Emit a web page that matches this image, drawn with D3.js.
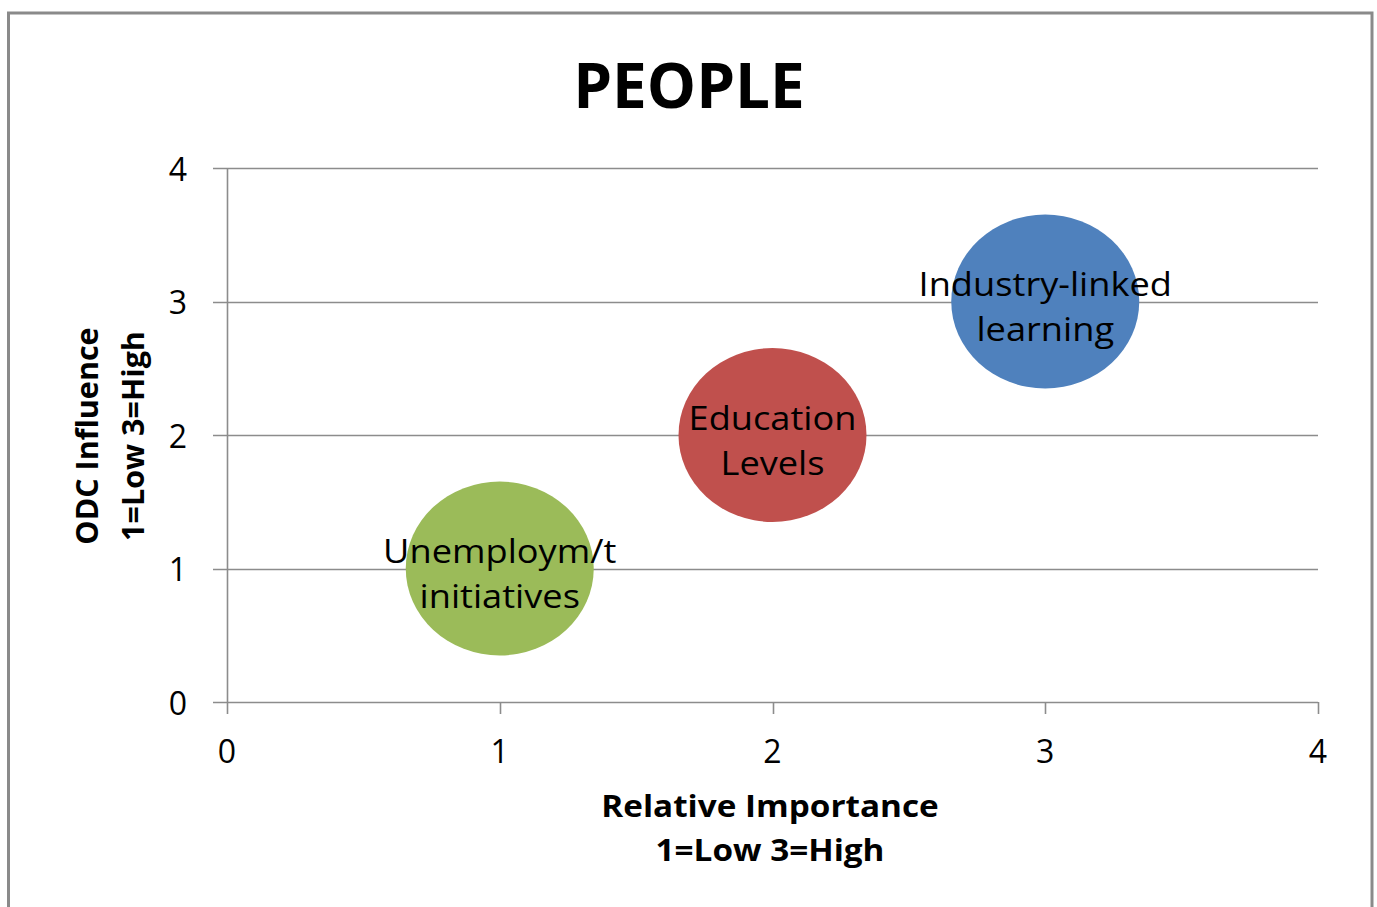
<!DOCTYPE html>
<html>
<head>
<meta charset="utf-8">
<script src="https://cdn.jsdelivr.net/npm/d3@7/dist/d3.min.js"></script>
<style>
  html, body { margin: 0; padding: 0; background: #fff; }
  svg { display: block; }
  text { font-family: "Open Sans", Lato, sans-serif; fill: #000; }
</style>
</head>
<body>
<svg id="chart" width="1377" height="907"></svg>
<script>
// Bubble data: one entry per topic
const labels = [["Unemploym/t", "initiatives"], ["Education", "Levels"], ["Industry-linked", "learning"]];
const importance = [1, 2, 3];
const influence = [1, 2, 3];
const bubbleSize = [1, 1, 1];
const colors = ["#9BBB59", "#C0504D", "#4F81BD"];
const xTicks = [0, 1, 2, 3, 4];
const yTicks = [0, 1, 2, 3, 4];

const svg = d3.select("#chart");
const W = 1377, H = 907;

// Outer frame
svg.append("rect")
  .attr("x", 8.5).attr("y", 13).attr("width", 1363.5).attr("height", H)
  .attr("fill", "#fff").attr("stroke", "#8a8a8a").attr("stroke-width", 3);

const plot = { left: 227, right: 1318, top: 168, bottom: 702 };
const x = d3.scaleLinear().domain([0, 4]).range([plot.left, plot.right]);
const y = d3.scaleLinear().domain([0, 4]).range([plot.bottom, plot.top]);
const r = d3.scaleSqrt().domain([0, 1]).range([0, 94]);
const aspect = 0.925; // vertical squash of the bubbles
const stretch = 1 / aspect; // matching horizontal widening for horizontal text

const gridColor = "#8c8c8c";

// Horizontal text widened around its anchor point
function wideText(g, cx, cy) {
  return g.append("g")
    .attr("transform", `translate(${cx},${cy}) scale(${stretch},1)`)
    .append("text");
}

// Horizontal gridlines (extend left past the axis as tick marks)
svg.append("g").selectAll("line")
  .data(yTicks)
  .join("line")
  .attr("x1", plot.left - 14).attr("x2", plot.right)
  .attr("y1", d => Math.round(y(d)) + 0.5).attr("y2", d => Math.round(y(d)) + 0.5)
  .attr("stroke", gridColor).attr("stroke-width", 1.6);

// Vertical axis line
svg.append("line")
  .attr("x1", plot.left + 0.5).attr("x2", plot.left + 0.5)
  .attr("y1", plot.top).attr("y2", plot.bottom + 12)
  .attr("stroke", gridColor).attr("stroke-width", 1.6);

// X tick marks
svg.append("g").selectAll("line")
  .data(xTicks.slice(1))
  .join("line")
  .attr("x1", d => Math.round(x(d)) + 0.5).attr("x2", d => Math.round(x(d)) + 0.5)
  .attr("y1", plot.bottom).attr("y2", plot.bottom + 12)
  .attr("stroke", gridColor).attr("stroke-width", 1.6);

// Y tick labels
svg.append("g").selectAll("text")
  .data(yTicks)
  .join("text")
  .attr("x", 187).attr("y", d => y(d))
  .attr("text-anchor", "end").attr("dominant-baseline", "central")
  .attr("font-family", "Lato, sans-serif")
  .attr("font-size", 32)
  .text(d => d);

// X tick labels
svg.append("g").selectAll("text")
  .data(xTicks)
  .join("text")
  .attr("x", d => x(d)).attr("y", 750)
  .attr("text-anchor", "middle").attr("dominant-baseline", "central")
  .attr("font-family", "Lato, sans-serif")
  .attr("font-size", 32)
  .text(d => d);

// Bubbles
const bubbles = svg.append("g").selectAll("g")
  .data(importance.map((v, i) => ({ x: v, y: influence[i], s: bubbleSize[i], c: colors[i], lab: labels[i] })))
  .join("g");

bubbles.append("ellipse")
  .attr("cx", d => x(d.x)).attr("cy", d => y(d.y))
  .attr("rx", d => r(d.s)).attr("ry", d => r(d.s) * aspect)
  .attr("fill", d => d.c);

bubbles.each(function(d) {
  const t = wideText(d3.select(this), x(d.x), y(d.y))
    .attr("text-anchor", "middle")
    .attr("font-size", 33.5)
    .attr("fill", "#1a1a1a");
  d.lab.forEach((line, i) => {
    t.append("tspan")
      .attr("x", 0)
      .attr("y", -18 + i * 45)
      .attr("dominant-baseline", "central")
      .text(line);
  });
});

// Title
svg.append("text")
  .attr("x", 689).attr("y", 84)
  .attr("text-anchor", "middle").attr("dominant-baseline", "central")
  .attr("font-family", "Lato, sans-serif")
  .attr("font-size", 62).attr("font-weight", "bold")
  .text("PEOPLE");

// X axis title
const xt = wideText(svg, 770, 805).attr("text-anchor", "middle")
  .attr("font-size", 30.8).attr("font-weight", "bold");
["Relative Importance", "1=Low 3=High"].forEach((s, i) => {
  xt.append("tspan").attr("x", 0).attr("y", i * 44)
    .attr("dominant-baseline", "central").text(s);
});

// Y axis title
const yt = svg.append("text").attr("text-anchor", "middle")
  .attr("font-size", 30.5).attr("font-weight", "bold")
  .attr("transform", "rotate(-90)");
["ODC Influence", "1=Low 3=High"].forEach((s, i) => {
  yt.append("tspan").attr("x", -436).attr("y", 86 + i * 46)
    .attr("dominant-baseline", "central").text(s);
});
</script>
</body>
</html>
